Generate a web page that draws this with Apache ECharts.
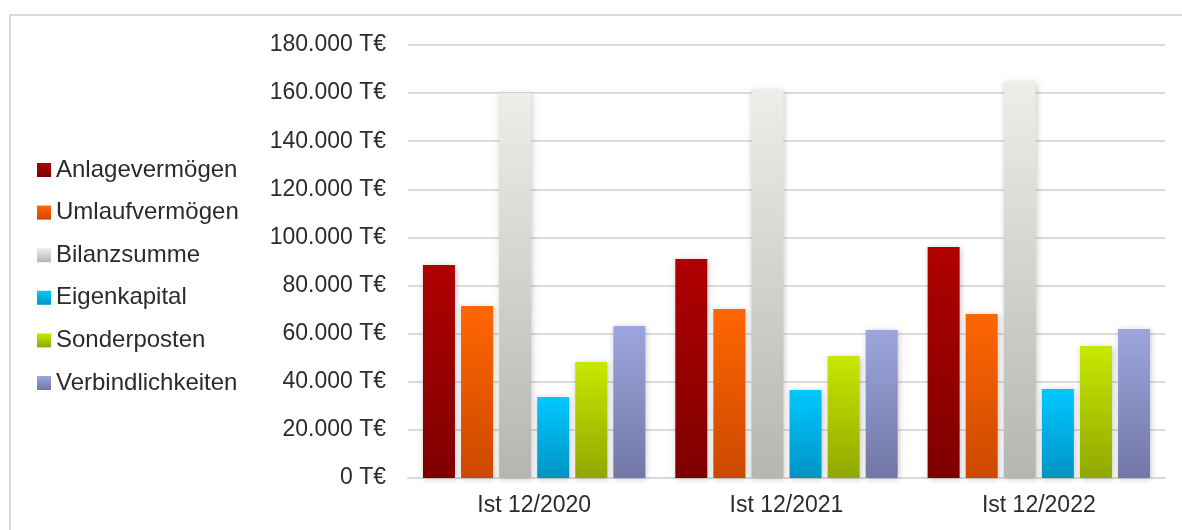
<!DOCTYPE html>
<html>
<head>
<meta charset="utf-8">
<script src="https://cdn.jsdelivr.net/npm/echarts@6/dist/echarts.min.js"></script>
<style>
  html, body { margin: 0; padding: 0; background: #fff; }
  #chart { width: 1182px; height: 530px; }
</style>
</head>
<body>
<div id="chart"></div>
<script>
// Werte in T€
var categories = ["Ist 12/2020", "Ist 12/2021", "Ist 12/2022"];
var anlagevermoegen = [88500, 91000, 96000];
var umlaufvermoegen = [71500, 70300, 68200];
var bilanzsumme = [160000, 161500, 164600];
var eigenkapital = [33700, 36600, 37000];
var sonderposten = [48200, 50700, 54900];
var verbindlichkeiten = [63200, 61500, 61900];

var seriesNames = ["Anlagevermögen", "Umlaufvermögen", "Bilanzsumme", "Eigenkapital", "Sonderposten", "Verbindlichkeiten"];
var seriesData = [anlagevermoegen, umlaufvermoegen, bilanzsumme, eigenkapital, sonderposten, verbindlichkeiten];
// Verlauf oben -> unten
var gradients = [
  ["#b00000", "#7e0000"],
  ["#ff6600", "#cc4800"],
  ["#eeeee9", "#b6b6b0"],
  ["#00c8ff", "#0094c4"],
  ["#c8e800", "#90a800"],
  ["#9ca6de", "#7277a6"]
];

var font = "'Liberation Sans', Arial, sans-serif";

function fmt(v) {
  // Tausenderpunkt wie im Original
  return String(v).replace(/\B(?=(\d{3})+(?!\d))/g, ".") + " T€";
}

var myChart = echarts.init(document.getElementById("chart"));

myChart.setOption({
  backgroundColor: "#fff",
  animation: false,
  graphic: [{
    type: "rect",
    shape: { x: 10, y: 15, width: 1200, height: 540 },
    style: { fill: "none", stroke: "#d9d9d9", lineWidth: 2 },
    silent: true
  }],
  legend: {
    orient: "vertical",
    left: 32,
    top: 153,
    itemWidth: 14,
    itemHeight: 14,
    itemGap: 18.6,
    icon: "rect",
    textStyle: { fontSize: 24, color: "#2b2b2b", fontFamily: font },
    data: seriesNames
  },
  grid: {
    left: 408,
    right: 17,
    top: 45,
    bottom: 52,
    containLabel: false
  },
  xAxis: {
    type: "category",
    data: categories,
    axisLine: { lineStyle: { color: "#d9d9d9", width: 2 } },
    axisTick: { show: false },
    axisLabel: { fontSize: 23, color: "#2b2b2b", fontFamily: font, margin: 16 }
  },
  yAxis: {
    type: "value",
    min: 0,
    max: 180000,
    interval: 20000,
    axisLine: { show: false },
    axisTick: { show: false },
    splitLine: { lineStyle: { color: "#dcdcdc", width: 2 } },
    axisLabel: {
      fontSize: 23,
      color: "#2b2b2b",
      fontFamily: font,
      margin: 22,
      formatter: fmt
    }
  },
  series: seriesNames.map(function (name, i) {
    return {
      name: name,
      type: "bar",
      data: seriesData[i],
      barWidth: 32,
      barGap: "19%",
      itemStyle: {
        color: new echarts.graphic.LinearGradient(0, 0, 0, 1, [
          { offset: 0, color: gradients[i][0] },
          { offset: 1, color: gradients[i][1] }
        ]),
        shadowBlur: 6,
        shadowColor: "rgba(0,0,0,0.22)",
        shadowOffsetX: 1,
        shadowOffsetY: 1
      }
    };
  })
});
</script>
</body>
</html>
